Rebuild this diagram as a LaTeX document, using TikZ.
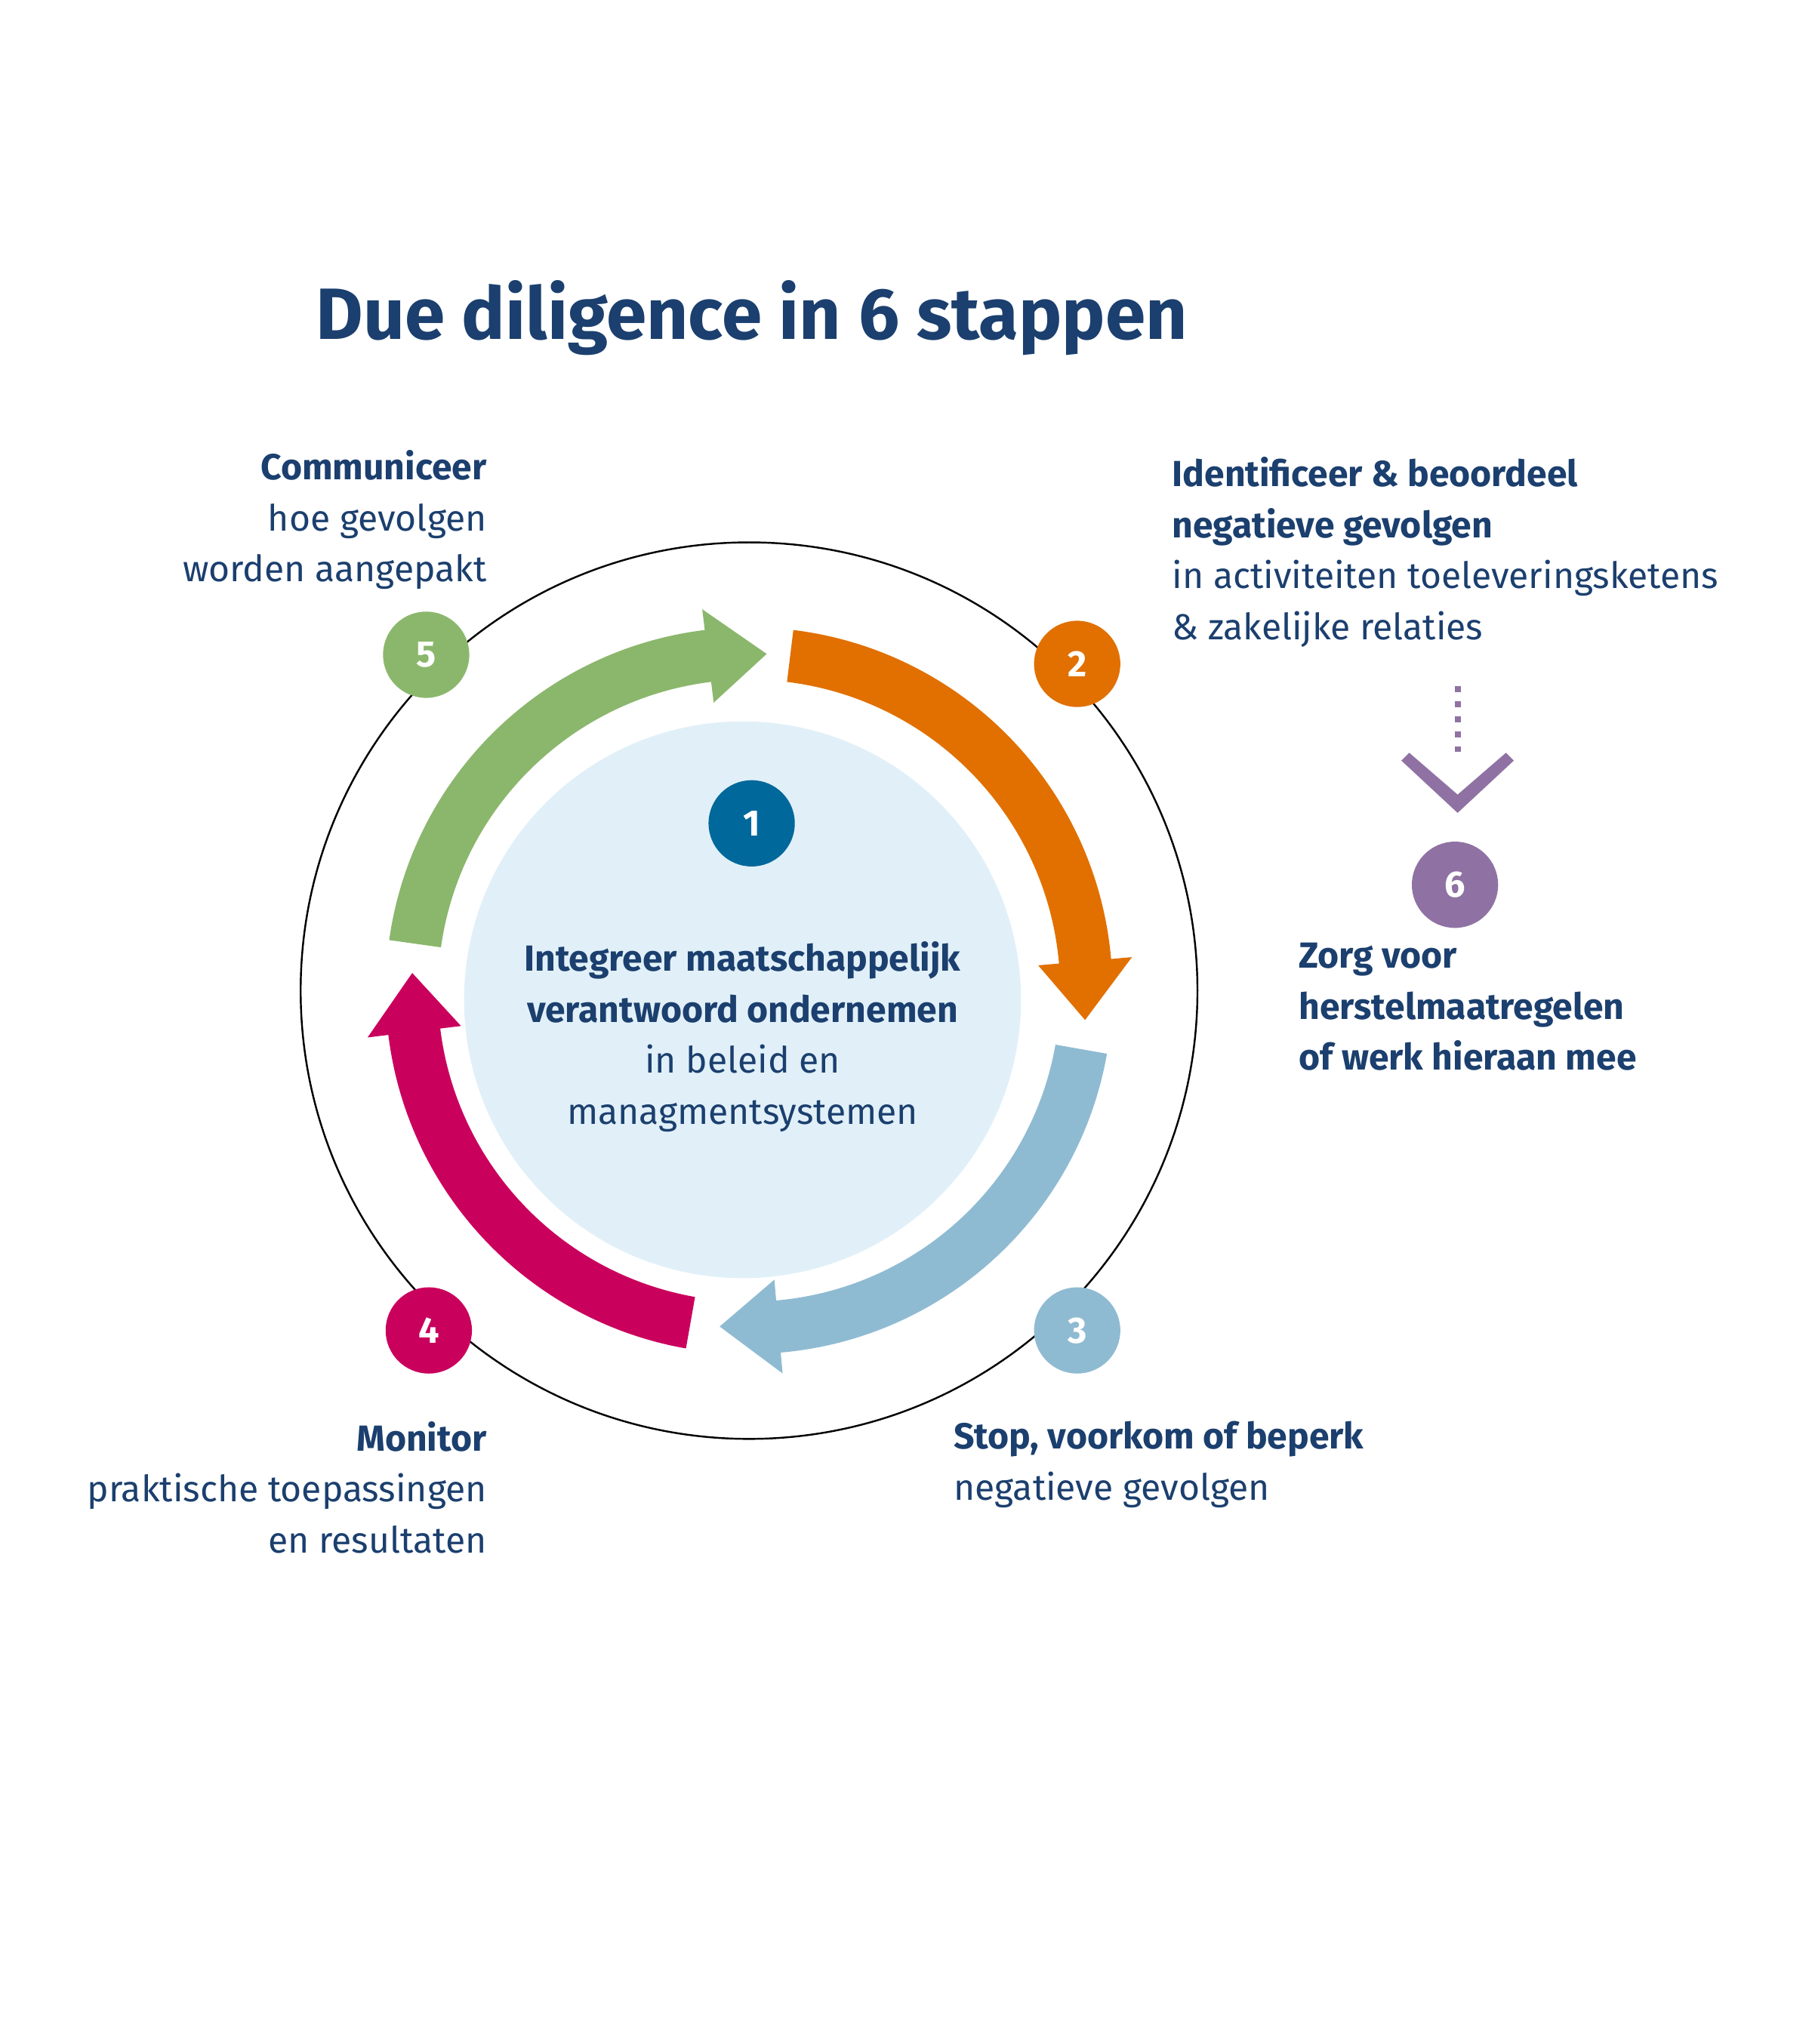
\documentclass[tikz,border=0pt]{standalone}
\usepackage{fontspec}
\setmainfont{Fira Sans}
\usetikzlibrary{positioning}
\definecolor{rodark}{HTML}{1B3F6E}
\definecolor{roorange}{HTML}{E17000}
\definecolor{rogreen}{HTML}{8BB76C}
\definecolor{rolblue}{HTML}{8FBBD2}
\definecolor{rored}{HTML}{CA005D}
\definecolor{ropurple}{HTML}{8F72A3}
\definecolor{roblue}{HTML}{01689B}
\definecolor{ropale}{HTML}{E1F0F8}
% ring arrow: colour, start angle, end angle (clockwise)
\newcommand{\ringarrow}[3]{%
  \fill[#1] (#2:278) arc[start angle=#2, end angle=#3+10, radius=278]
    -- (#3+10:294) -- (#3:258) -- (#3+10:222) -- (#3+10:238)
    arc[start angle=#3+10, end angle=#2, radius=238] -- cycle;}
\begin{document}
\begin{tikzpicture}[x=0.1mm,y=0.1mm]
  \tikzstyle{stepnr}=[circle, minimum size=6.6mm, inner sep=0pt, text=white, font=\bfseries\fontsize{8}{10}\selectfont]
  \tikzstyle{label}=[inner sep=0pt, text=rodark, font=\fontsize{7.9}{11.1}\selectfont]
  \useasboundingbox (-573,758) rectangle (813,-806);

  \draw[black, line width=0.4pt] (0,0) circle[radius=343];
  \fill[ropale] (-5,-7) circle[radius=213];

  \ringarrow{rogreen}{172}{87}
  \ringarrow{roorange}{83}{-5}
  \ringarrow{rolblue}{-10}{-95}
  \ringarrow{rored}{-100}{-183}

  \node[stepnr, fill=roblue] (n1) at (2,128) {1};
  \node[stepnr, fill=roorange] (n2) at (251,250) {2};
  \node[stepnr, fill=rolblue] (n3) at (251,-260) {3};
  \node[stepnr, fill=rored] (n4) at (-245,-260) {4};
  \node[stepnr, fill=rogreen] (n5) at (-247,257) {5};
  \node[stepnr, fill=ropurple] (n6) at (540,81) {6};

  % route to step 6
  \coordinate (d1) at (542,233);
  \coordinate (d2) at (542,183);
  \draw[ropurple, line width=1.3pt, dotted] (d1) -- (d2);
  \fill[ropurple] (505,182) -- (542,150) -- (579,182) -- (585,176) -- (542,136) -- (499,176) -- cycle;

  \node[inner sep=0pt, anchor=west, text=rodark, font=\bfseries\fontsize{15.8}{20}\selectfont] (title) at (-332,515) {Due diligence in 6 stappen};

  \node[label, anchor=north east, align=right] (t5) at (-200,414) {\textbf{Communiceer}\\hoe gevolgen\\worden aangepakt};
  \node[label, anchor=north west, align=left] (t2) at (323,409) {\textbf{Identificeer \& beoordeel}\\\textbf{negatieve gevolgen}\\in activiteiten toeleveringsketens\\\& zakelijke relaties};
  \node[label, anchor=north west, align=left] (t6) at (420,37) {\textbf{Zorg voor}\\\textbf{herstelmaatregelen}\\\textbf{of werk hieraan mee}};
  \node[label, anchor=north west, align=left] (t3) at (156,-329) {\textbf{Stop, voorkom of beperk}\\negatieve gevolgen};
  \node[label, anchor=north east, align=right] (t4) at (-200,-329) {\textbf{Monitor}\\praktische toepassingen\\en resultaten};
  \node[label, anchor=north, align=center] (t1) at (-5,38) {\textbf{Integreer maatschappelijk}\\\textbf{verantwoord ondernemen}\\in beleid en\\managmentsystemen};
\end{tikzpicture}
\end{document}
